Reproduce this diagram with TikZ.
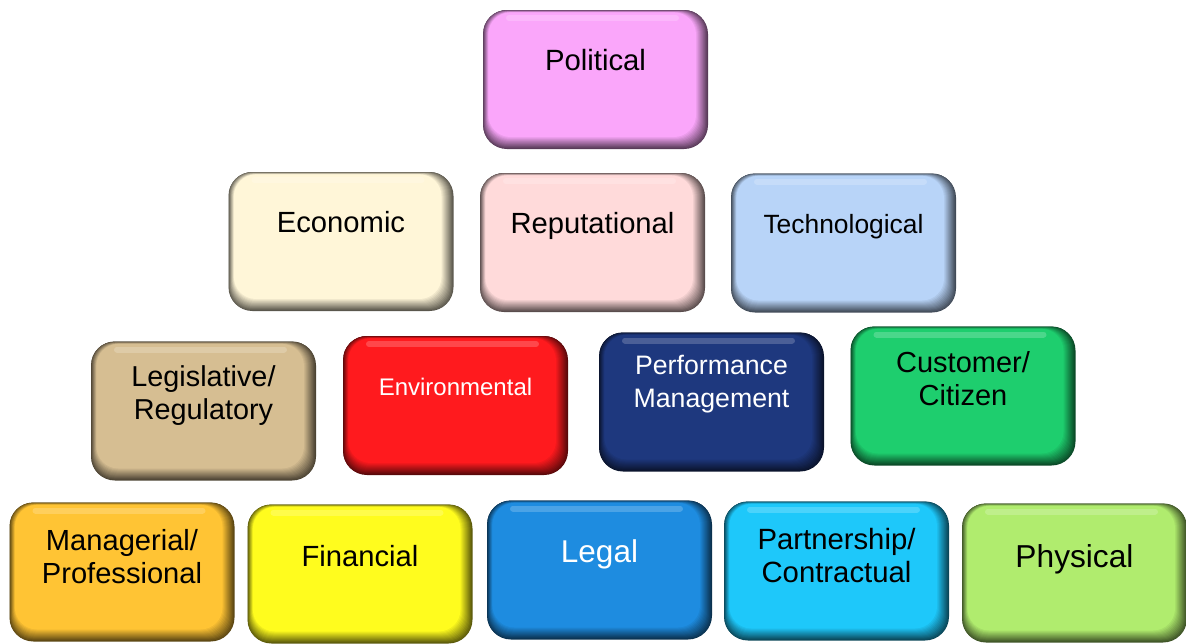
\documentclass[tikz,border=0pt]{standalone}
\usepackage{fontspec}
\setmainfont{Liberation Sans}

\definecolor{polcol}{RGB}{250,166,250}
\definecolor{ecocol}{RGB}{255,246,216}
\definecolor{repcol}{RGB}{255,218,218}
\definecolor{techcol}{RGB}{184,212,248}
\definecolor{legcol}{RGB}{214,190,146}
\definecolor{envcol}{RGB}{255,26,30}
\definecolor{perfcol}{RGB}{30,56,126}
\definecolor{custcol}{RGB}{30,206,110}
\definecolor{mancol}{RGB}{255,196,52}
\definecolor{fincol}{RGB}{255,252,30}
\definecolor{lglcol}{RGB}{30,140,224}
\definecolor{partcol}{RGB}{30,200,250}
\definecolor{physcol}{RGB}{176,236,110}

\tikzset{
  riskbox/.style={rounded corners=24pt, minimum width=225pt, minimum height=139pt,
    inner sep=0pt, fill=#1!35!black,
    path picture={
      \foreach \k in {1,...,12}{
        \pgfmathtruncatemacro{\pct}{35+65*\k/12}
        \fill[#1!\pct!black, rounded corners=22pt]
          ([xshift=\k*0.45pt, yshift=-\k*0.2pt]path picture bounding box.north west)
          rectangle ([xshift=-\k*1pt, yshift=\k*1pt]path picture bounding box.south east);
      }
      \draw[white, opacity=.2, line width=6pt, line cap=round]
        ([xshift=26pt, yshift=-8pt]path picture bounding box.north west) --
        ([xshift=-32pt, yshift=-8pt]path picture bounding box.north east);
    }},
  cap/.style={anchor=base, align=center, font=\fontsize{#1}{33}\selectfont},
  captwo/.style={anchor=center, align=center, font=\fontsize{#1}{33}\selectfont},
}

\begin{document}
\begin{tikzpicture}[x=1pt, y=-1pt]
        \useasboundingbox (0,0) rectangle (1186,643);

        % top
        \node[riskbox=polcol] (pol) at (595.5,79.5) {};
        \node[cap=29.3] (pol-t) at ([yshift=-61pt]pol.north) {Political};

        % second row
        \node[riskbox=ecocol] (eco) at (341,241.5) {};
        \node[riskbox=repcol] (rep) at (592.5,242.5) {};
        \node[riskbox=techcol] (tech) at (843.5,243) {};
        \node[cap=29.2] (eco-t) at ([yshift=-61pt]eco.north) {Economic};
        \node[cap=29.2] (rep-t) at ([yshift=-61pt]rep.north) {Reputational};
        \node[cap=26.4] (tech-t) at ([yshift=-60pt]tech.north) {Technological};

        % third row
        \node[riskbox=legcol] (leg) at (203.5,411) {};
        \node[riskbox=envcol] (env) at (455.5,405.5) {};
        \node[riskbox=perfcol] (perf) at (711.5,402) {};
        \node[riskbox=custcol] (cust) at (963,396) {};
        \node[captwo=28.8] (leg-t) at ([yshift=-54pt]leg.north) {Legislative/\\Regulatory};
        \node[cap=24, text=white] (env-t) at ([yshift=-60pt]env.north) {Environmental};
        \node[captwo=26.7, text=white] (perf-t) at ([yshift=-52pt]perf.north) {Performance\\Management};
        \node[captwo=29] (cust-t) at ([yshift=-52pt]cust.north) {Customer/\\Citizen};

        % bottom row
        \node[riskbox=mancol] (man) at (122,572) {};
        \node[riskbox=fincol] (fin) at (360,574) {};
        \node[riskbox=lglcol] (lgl) at (599.5,570) {};
        \node[riskbox=partcol] (part) at (836.5,571) {};
        \node[riskbox=physcol] (phys) at (1074.5,573) {};
        \node[captwo=29.1] (man-t) at ([yshift=-54pt]man.north) {Managerial/\\Professional};
        \node[cap=29.2] (fin-t) at ([yshift=-62pt]fin.north) {Financial};
        \node[cap=31.5, text=white] (lgl-t) at ([yshift=-62pt]lgl.north) {Legal};
        \node[captwo=29.3] (part-t) at ([yshift=-54pt]part.north) {Partnership/\\Contractual};
        \node[cap=31.7] (phys-t) at ([yshift=-64pt]phys.north) {Physical};
\end{tikzpicture}
\end{document}
